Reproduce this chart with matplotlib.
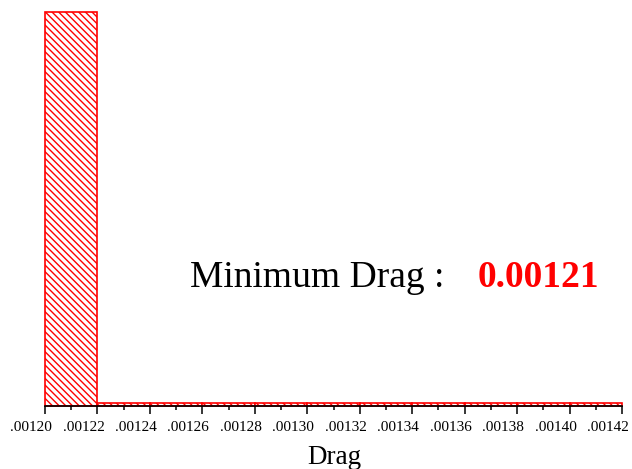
import matplotlib
matplotlib.use("Agg")
import matplotlib.pyplot as plt
from matplotlib.transforms import ScaledTranslation

plt.rcParams['font.family'] = ['Liberation Serif', 'DejaVu Serif']
plt.rcParams['hatch.color'] = '#ff5a5a'
plt.rcParams['hatch.linewidth'] = 1.0

# Histogram of drag values
bin_left = [0.00120, 0.00122, 0.00124, 0.00126, 0.00128, 0.00130,
            0.00132, 0.00134, 0.00136, 0.00138, 0.00140]
bin_width = 0.00002
counts = [150, 1, 1, 1, 1, 1, 1, 1, 1, 1, 1]

tick_values = [0.00120, 0.00122, 0.00124, 0.00126, 0.00128, 0.00130,
               0.00132, 0.00134, 0.00136, 0.00138, 0.00140, 0.00142]
tick_labels = [".00120", ".00122", ".00124", ".00126", ".00128", ".00130",
               ".00132", ".00134", ".00136", ".00138", ".00140", ".00142"]

min_drag = "0.00121"

W, H = 632, 469
fig = plt.figure(figsize=(W / 100, H / 100), dpi=100)
ax = fig.add_axes([45 / W, (H - 406) / H, (622 - 45) / W, (406 - 12) / H])

bars = ax.bar(bin_left, counts, width=bin_width, align='edge',
              facecolor='white', edgecolor='red', linewidth=1.2,
              hatch='\\' * 5, clip_on=False)

ax.set_xlim(tick_values[0], tick_values[-1])
ax.set_ylim(0, max(counts))

for s in ('left', 'right', 'top'):
    ax.spines[s].set_visible(False)
ax.spines['bottom'].set_linewidth(1.2)
ax.set_yticks([])

ax.set_xticks(tick_values)
ax.set_xticklabels(tick_labels, fontsize=11)
ax.set_xticks([v + bin_width / 2 for v in tick_values[:-1]], minor=True)
ax.tick_params(axis='x', which='major', direction='out', length=6, width=1.1, pad=5)
ax.tick_params(axis='x', which='minor', direction='out', length=3, width=1.1)

# labels sit slightly left of their ticks
shift = ScaledTranslation(-14 / 100, 0, fig.dpi_scale_trans)
for lbl in ax.get_xticklabels():
    lbl.set_transform(lbl.get_transform() + shift)

fig.text(334 / W, (H - 464) / H, "Drag", ha='center', va='baseline', fontsize=19.5)

fig.text(190 / W, (H - 287) / H, "Minimum Drag :", ha='left', va='baseline',
         fontsize=27, color='black')
fig.text(478 / W, (H - 287) / H, min_drag, ha='left', va='baseline',
         fontsize=27, color='red', fontweight='bold')

fig.savefig("out.png", dpi=100)
